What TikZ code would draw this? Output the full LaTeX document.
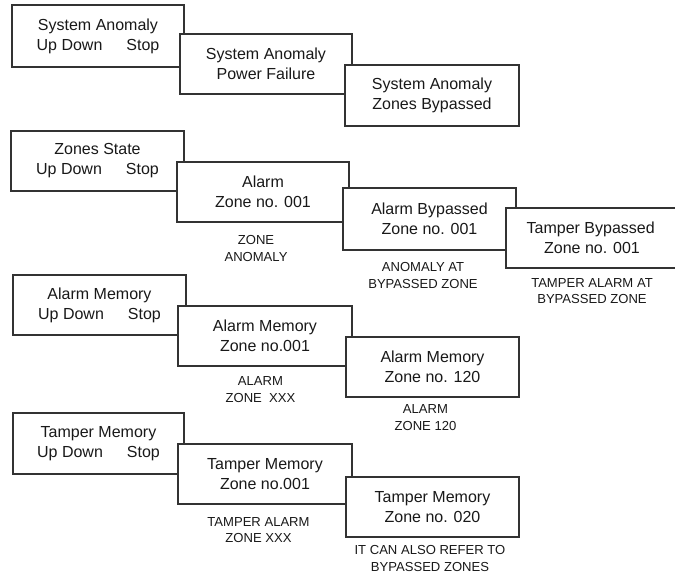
\documentclass[tikz,border=0pt]{standalone}
\usepackage{fontspec}
\setmainfont{Liberation Sans}
\newcommand{\bx}[6]{\node[box, minimum width={(#4-#2)*0.75pt}, minimum height={(#5-#3)*0.75pt}] (#1) at ({(#2+#4)/2},{(#3+#5)/2}) {#6};}
\newcommand{\udstop}{Up Down\hspace{18pt}Stop}
\tikzset{
  box/.style={draw=black!80, line width=1pt, fill=white, inner sep=0pt, align=center, text=black!90,
    font=\fontsize{12}{15}\selectfont},
  lbl/.style={inner sep=0pt, align=center, text=black!90, font=\fontsize{9.8}{12.2}\selectfont}
}
\begin{document}
\begin{tikzpicture}[x=0.75pt,y=-0.75pt]
\useasboundingbox (0,0) rectangle (675,576);
% row 1
\bx{a1}{12}{5}{184}{67}{System Anomaly\\\udstop}
\bx{a2}{180}{34}{352}{94}{System Anomaly\\Power Failure}
\bx{a3}{345}{65}{519}{126}{System Anomaly\\Zones Bypassed}
% row 2
\bx{b1}{11}{131}{184}{191}{Zones State\\\udstop}
\bx{b2}{177}{162}{349}{222}{Alarm\\Zone no. 001}
\bx{b3}{343}{188}{516}{250}{Alarm Bypassed\\Zone no. 001}
\bx{b4}{506}{208}{678}{268}{\hspace*{-2pt}Tamper Bypassed\\Zone no. 001}
\node[lbl] (lb2) at (256,248.5) {ZONE\\ANOMALY};
\node[lbl] (lb3) at (423,275.5) {ANOMALY AT\\BYPASSED ZONE};
\node[lbl] (lb4) at (592,291) {TAMPER ALARM AT\\BYPASSED ZONE};
% row 3
\bx{c1}{13}{275}{186}{335}{Alarm Memory\\\udstop}
\bx{c2}{178}{306}{352}{366}{Alarm Memory\\Zone no.001}
\bx{c3}{346}{337}{519}{397}{Alarm Memory\\Zone no. 120}
\node[lbl] (lc2) at (260.5,389.5) {ALARM\\ZONE\ \ XXX};
\node[lbl] (lc3) at (425.5,417.5) {ALARM\\ZONE 120};
% row 4
\bx{d1}{13}{413}{184}{474}{Tamper Memory\\\udstop}
\bx{d2}{178}{444}{352}{504}{Tamper Memory\\Zone no.001}
\bx{d3}{346}{477}{519}{537}{Tamper Memory\\Zone no. 020}
\node[lbl] (ld2) at (258.5,530) {TAMPER ALARM\\ZONE XXX};
\node[lbl] (ld3) at (430,558.5) {IT CAN ALSO REFER TO\\BYPASSED ZONES};
\end{tikzpicture}
\end{document}
